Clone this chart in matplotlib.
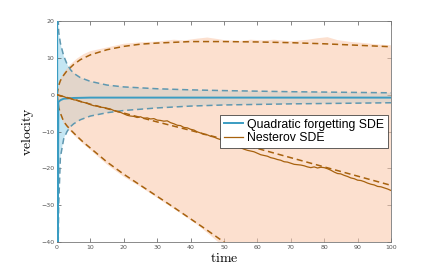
import numpy as np
import matplotlib.pyplot as plt

plt.rcParams['mathtext.fontset'] = 'cm'

# ---- Nesterov SDE (orange) ----
t_nest = np.arange(0, 101)
nest_path = [0.0, -0.4, -0.5, -0.9, -1.0, -1.4, -1.5, -1.9, -2.1, -2.3,
             -2.7, -3.0, -3.1, -3.4, -3.5, -3.7, -3.9, -4.3, -4.6, -4.8,
             -5.2, -5.6, -5.8, -5.9, -6.2, -6.0, -6.4, -6.3, -6.6, -6.5,
             -6.9, -7.0, -7.2, -7.1, -7.6, -7.9, -8.3, -8.4, -8.9, -9.0,
             -9.4, -9.6, -10.1, -10.4, -10.8, -10.9, -11.3, -11.5, -11.9, -12.2,
             -12.6, -13.2, -13.6, -13.8, -14.2, -14.4, -14.8, -15.1, -15.3, -15.5,
             -15.9, -16.3, -16.5, -16.7, -17.1, -17.3, -17.6, -17.8, -18.2, -18.3,
             -18.6, -18.9, -19.0, -19.1, -19.3, -19.6, -19.8, -19.6, -19.9, -19.7,
             -19.8, -20.1, -20.5, -21.0, -21.4, -21.5, -21.9, -22.2, -22.6, -22.8,
             -23.2, -23.3, -23.6, -24.0, -24.3, -24.5, -24.9, -25.0, -25.3, -25.6,
             -26.0]

t_nmean = [0, 10, 20, 30, 40, 50, 60, 70, 80, 90, 100]
nest_mean = [0, -2.6, -5.0, -7.4, -9.7, -12.1, -14.6, -17.1, -19.6, -22.1, -24.6]

t_nup = [0, 0.5, 1, 2, 3, 5, 7, 10, 15, 20, 25, 30, 40, 50, 60, 70, 80, 90, 100]
nest_up = [0, 2.5, 3.8, 5.3, 6.5, 8.2, 9.5, 10.8, 12.2, 13.1, 13.7, 14.0, 14.4,
           14.4, 14.3, 14.1, 13.8, 13.4, 13.0]

t_nlo = [0, 0.5, 1, 2, 3, 4, 6, 8, 10, 15, 20, 25, 30, 35, 40, 45, 50, 60, 80, 100]
nest_lo = [0, -3.5, -5, -7.3, -8.5, -9.5, -11.3, -13, -14.5, -18.3, -21.6, -24.6,
           -27.6, -30.6, -33.7, -36.8, -40, -46, -57, -66]

# empirical band (shaded)
t_nband = [0, 1, 2, 4, 6, 8, 10, 15, 20, 25, 30, 35, 38, 42, 45, 48, 50, 55, 58,
           62, 65, 70, 75, 78, 81, 84, 88, 92, 96, 100]
nband_up = [0, 4.3, 6, 8.2, 9.8, 11, 11.8, 12.8, 13.8, 14.2, 14.4, 14.9, 14.7, 15.2,
            15.5, 15.1, 14.8, 14.6, 14.9, 14.7, 14.9, 14.5, 14.9, 15.3, 15.6, 14.8,
            14.3, 14.0, 13.6, 13.4]
nband_lo = [0, -5.5, -7.8, -10, -11.8, -13.5, -15, -19, -22.3, -25, -28, -31, -32.8,
            -35.3, -37.5, -39.8, -41, -44, -45.8, -48, -49.8, -52.5, -55.5, -57,
            -58.5, -60, -62, -64, -65.5, -66.5]

# ---- Quadratic forgetting SDE (blue) ----
t_quad = [0, 0.15, 0.4, 1, 2, 5, 10, 20, 40, 60, 80, 100]
quad_path = [30, -50, -2.0, -1.5, -1.1, -0.9, -0.8, -0.8, -0.8, -0.8, -0.8, -0.8]

t_qband = [0.2, 0.3, 0.5, 1, 2, 3, 4, 5, 7, 10, 15, 20, 30, 40, 50, 70, 100]
quad_up = [60, 22, 17, 14, 10.5, 8.3, 6.8, 5.8, 4.6, 3.6, 2.6, 2.1, 1.6, 1.3, 1.1, 0.8, 0.5]
quad_lo = [-60, -45, -30, -17, -12, -10, -8.7, -7.9, -6.8, -5.8, -4.9, -4.3, -3.6,
           -3.1, -2.8, -2.5, -2.2]

blue = '#3A9CC2'
blue_dash = '#5F98B0'
orange = '#A8620E'
dash = (4, 2.5)

fig = plt.figure(figsize=(4.32, 2.72), dpi=100)
ax = fig.add_axes([0.132, 0.110, 0.773, 0.813])

ax.fill_between(t_qband, quad_lo, quad_up, color='#C4E6F3', lw=0, zorder=1)
ax.fill_between(t_nband, nband_lo, nband_up, color='#FAC8AB', alpha=0.56, lw=0, zorder=2)

ax.plot(t_nup, nest_up, '--', dashes=dash, color=orange, lw=1.1, zorder=3)
ax.plot(t_nlo, nest_lo, '--', dashes=dash, color=orange, lw=1.1, zorder=3)
ax.plot(t_qband, quad_up, '--', dashes=dash, color=blue_dash, lw=1.1, zorder=3)
ax.plot(t_qband, quad_lo, '--', dashes=dash, color=blue_dash, lw=1.1, zorder=3)

ax.plot(t_quad, quad_path, '-', color=blue, lw=1.4, zorder=4,
        label='Quadratic forgetting SDE')
ax.plot(t_nmean, nest_mean, '--', dashes=dash, color=orange, lw=1.1, zorder=4)
ax.plot(t_nest, nest_path, '-', color=orange, lw=0.9, zorder=5, label='Nesterov SDE')

ax.set_xlim(0, 100)
ax.set_ylim(-40, 20)
ax.set_xticks(np.arange(0, 101, 10))
ax.set_yticks(np.arange(-40, 21, 10))
ax.tick_params(direction='in', length=3, width=0.5, labelsize=4.5,
               colors='#555555', top=True, right=True, pad=2)
for s in ax.spines.values():
    s.set_color('#777777')
    s.set_linewidth(0.6)

ax.set_xlabel(r'$\mathrm{time}$', fontsize=10, labelpad=1)
ax.set_ylabel(r'$\mathrm{velocity}$', fontsize=10, labelpad=4)

leg = ax.legend(loc='center right', bbox_to_anchor=(0.99, 0.5), fancybox=False,
                framealpha=1, edgecolor='#222222', handlelength=1.6,
                handletextpad=0.3, borderpad=0.3, labelspacing=0.15,
                borderaxespad=0, prop={'family': 'Liberation Sans', 'size': 8.8})
leg.get_frame().set_linewidth(0.5)
leg.set_zorder(10)

fig.savefig('out.png', dpi=100)
